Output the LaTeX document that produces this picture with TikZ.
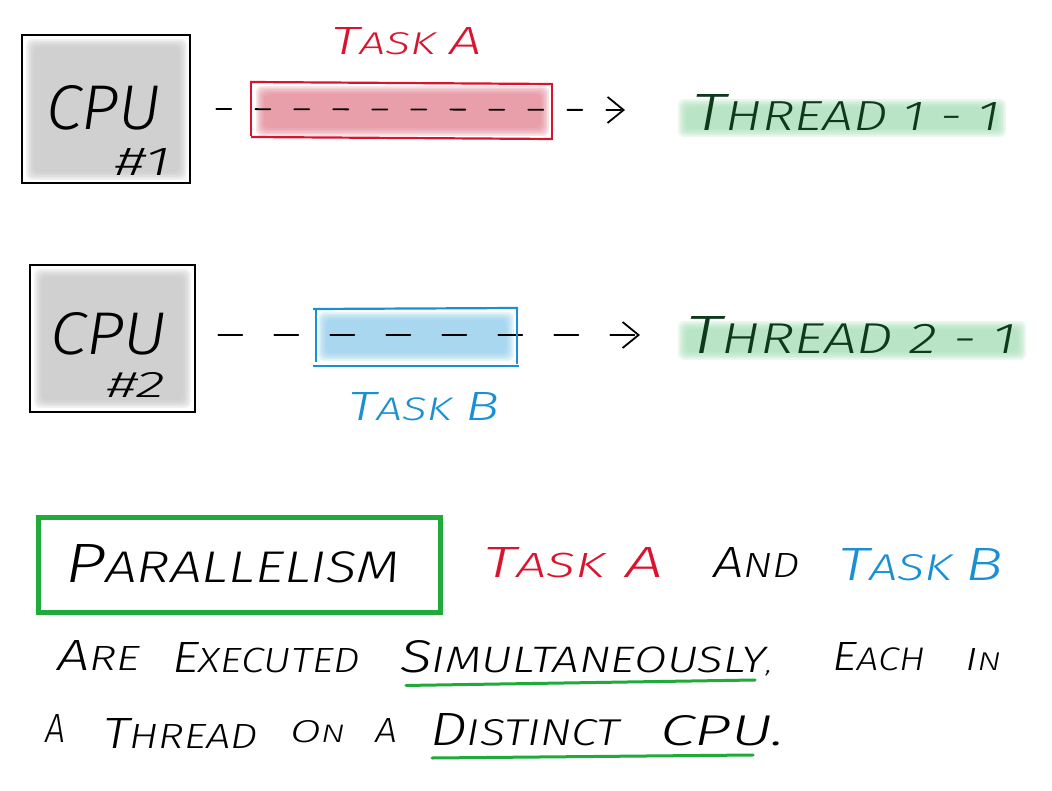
\documentclass[tikz,border=0pt]{standalone}
\usepackage{fontspec}
\usepackage{graphicx}
\usetikzlibrary{arrows.meta,calc}
\newfontfamily\hwfont{Fira Sans}[UprightFont=* Light, ItalicFont=* Light Italic]
\definecolor{taskred}{HTML}{D9142F}
\definecolor{taskblue}{HTML}{1A8FD3}
\definecolor{boxgreen}{HTML}{1FAA3A}
\definecolor{thrgreen}{HTML}{0E3A1C}
\definecolor{softred}{HTML}{E18392}
\definecolor{softblue}{HTML}{8FCCEA}
\definecolor{softgreen}{HTML}{A5DDB5}
\definecolor{softgray}{HTML}{C2C2C2}
\newcommand\sk[2]{{\fontsize{20}{20}\selectfont #1}{\fontsize{16}{16}\selectfont #2}}
\newcommand\hw[3]{\resizebox{#1pt}{#2pt}{\hwfont\itshape #3}}
\newcommand\softfill[5]{\foreach \i in {0,...,5}{\fill[#1,opacity=0.22,rounded corners=6pt] ($(#2,#3)+(\i*1.6,\i*1.6)$) rectangle ($(#4,#5)-(\i*1.6,\i*1.6)$);}}
\tikzset{
  txt/.style={anchor=base west,inner sep=0pt,outer sep=0pt},
  cpubox/.style={draw=black,line width=2.6pt,inner sep=0pt},
  flow/.style={line width=1.8pt,black,line cap=round,-{Straight Barb[length=16pt,width=26pt,line width=1.8pt]}},
  edge/.style={line width=2.2pt},
  uline/.style={boxgreen,line width=3pt,line cap=round}
}
\begin{document}
\begin{tikzpicture}[x=1pt,y=-1pt]
\useasboundingbox (0,0) rectangle (1052,791);
% CPU 1
\softfill{softgray}{26}{39}{187}{180}
\node[cpubox,minimum width=168pt,minimum height=148pt] (cpu1) at (106,109) {};
\node[txt] (cpu1t) at (46,130) {\hw{115}{44}{CPU}};
\node[txt] (cpu1n) at (115,176) {\hw{55}{27}{\#1}};
% CPU 2
\softfill{softgray}{34}{269}{191}{408}
\node[cpubox,minimum width=165pt,minimum height=147pt] (cpu2) at (112.5,338.5) {};
\node[txt] (cpu2t) at (50,355) {\hw{117}{42}{CPU}};
\node[txt] (cpu2n) at (107,398) {\hw{58}{25}{\#2}};
% Task A row
\softfill{softred}{256}{86}{549}{136}
\coordinate (a1end) at (625,110);
\draw[flow,dash pattern=on 15pt off 24pt,shorten <=25pt] (cpu1.east) -- (a1end);
\draw[taskred,edge] (250,82) -- (551,84);
\draw[taskred,edge] (251,137) -- (552,139);
\draw[taskred,edge] (251,82) -- (251,136);
\draw[taskred,edge] (552,83) -- (552,140);
\node[txt,taskred] (taskA) at (331,55) {\hw{151}{27}{\sk{T}{ASK}\hspace{0.5em}\sk{A}{}}};
% Thread 1-1
\softfill{softgreen}{678}{99}{1006}{137}
\node[txt,thrgreen] (thr1) at (692,131) {\hw{308}{36}{\sk{T}{HREAD 1 - 1}}};
% Task B row
\softfill{softblue}{318}{312}{514}{361}
\coordinate (a2end) at (640,335);
\draw[flow,dash pattern=on 24pt off 32pt,shorten <=22pt] (cpu2.east |- a2end) -- (a2end);
\draw[taskblue,edge] (313,309) -- (518,308);
\draw[taskblue,edge] (313,366) -- (519,366);
\draw[taskblue,edge] (316,310) -- (316,362);
\draw[taskblue,edge] (517,309) -- (517,364);
\node[txt,taskblue] (taskB) at (348,420) {\hw{152}{28}{\sk{T}{ASK}\hspace{0.5em}\sk{B}{}}};
% Thread 2-1
\softfill{softgreen}{678}{321}{1026}{360}
\node[txt,thrgreen] (thr2) at (686,354) {\hw{330}{37}{\sk{T}{HREAD 2 - 1}}};
% Bottom
\node[draw=boxgreen,line width=5pt,minimum width=402pt,minimum height=95pt,inner sep=0pt] (par) at (239,564.5) {};
\node[txt] (part) at (65,582) {\hw{335}{38}{\sk{P}{ARALLELISM}}};
\node[txt,taskred] (bA) at (483,577) {\hw{180}{30}{\sk{T}{ASK}\hspace{0.6em}\sk{A}{}}};
\node[txt] (band) at (713,577) {\hw{87}{30}{\sk{A}{ND}}};
\node[txt,taskblue] (bB) at (838,580) {\hw{165}{32}{\sk{T}{ASK}\hspace{0.4em}\sk{B}{}}};
% line 2
\node[txt] (w1) at (57,670) {\hw{83}{30}{\sk{A}{RE}}};
\node[txt] (w2) at (172,672) {\hw{188}{30}{\sk{E}{XECUTED}}};
\node[txt] (w3) at (400,672) {\hw{372}{32}{\sk{S}{IMULTANEOUSLY},}};
\node[txt] (w4) at (832,670) {\hw{93}{28}{\sk{E}{ACH}}};
\node[txt] (w5) at (965,670) {\hw{36}{22}{\sk{I}{N}}};
\draw[uline] (w3.south west) ++(6,10) coordinate (u1a) -- (755,680) coordinate (u1b);
% line 3
\node[txt] (v1) at (45,742) {\hw{20}{28}{A}};
\node[txt] (v2) at (103,748) {\hw{155}{30}{\sk{T}{HREAD}}};
\node[txt] (v3) at (290,742) {\hw{55}{22}{\sk{O}{N}}};
\node[txt] (v4) at (375,742) {\hw{22}{24}{A}};
\node[txt] (v5) at (430,745) {\hw{190}{32}{\sk{D}{ISTINCT}}};
\node[txt] (v6) at (660,745) {\hw{125}{30}{CPU.}};
\draw[uline] (432,758) -- (753,755);
\end{tikzpicture}
\end{document}
